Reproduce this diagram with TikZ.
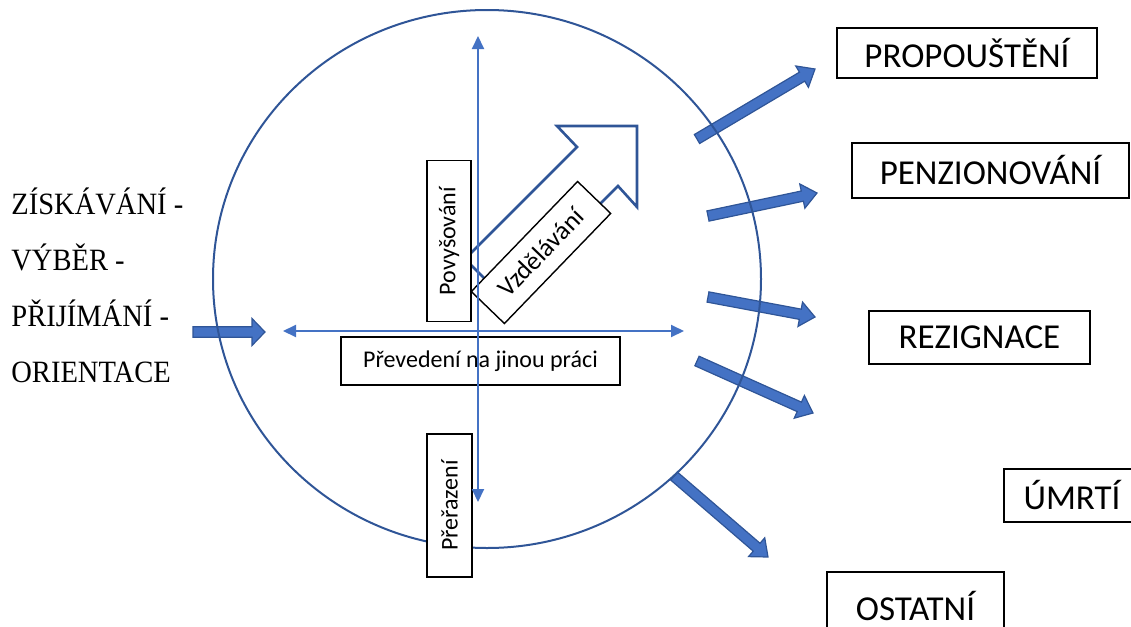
\documentclass[tikz,border=0pt]{standalone}
\usepackage{fontspec}
\setmainfont{Carlito}
\newfontfamily\serifL[FakeStretch=0.92]{Liberation Serif}
\usetikzlibrary{calc,arrows.meta}
\definecolor{axisblue}{HTML}{4472C4}
\definecolor{darkblue}{HTML}{2F5597}
\tikzset{
  box/.style={draw=black, line width=0.7pt, fill=white, inner sep=0pt},
  biglabel/.style={font=\fontsize{17.5}{20}\selectfont},
  smalllabel/.style={font=\fontsize{12}{14}\selectfont},
  lefttext/.style={font=\serifL\fontsize{15.5}{18}\selectfont, inner sep=0pt},
  axisline/.style={draw=axisblue, line width=1pt, {Triangle[length=6.5pt,width=6pt]}-{Triangle[length=6.5pt,width=6pt]}},
  circ/.style={draw=darkblue, line width=1pt},
  hollowarrow/.style={draw=darkblue, line width=1.3pt, line join=miter},
  blockarrow/.style={fill=axisblue, draw=darkblue, line width=0.6pt, line join=miter}
}
\newcommand{\blkarrow}[5]{%
  \coordinate (hb) at ($(#2)!#5!(#1)$);
  \filldraw[blockarrow] ($(#1)!#3!90:(#2)$) -- ($(hb)!#3!90:(#2)$) -- ($(hb)!#4!90:(#2)$)
    -- (#2) -- ($(hb)!#4!-90:(#2)$) -- ($(hb)!#3!-90:(#2)$) -- ($(#1)!#3!-90:(#2)$) -- cycle;
}
\begin{document}
\begin{tikzpicture}[x=0.5pt, y=-0.5pt]
\useasboundingbox (0,0) rectangle (1131,627);
\clip (0,0) rectangle (1131,627);

% block arrows
\coordinate (inA) at (193,332); \coordinate (inB) at (265,332);
\blkarrow{inA}{inB}{2.6pt}{6.75pt}{6.5pt}
\coordinate (o1a) at (697,139); \coordinate (o1b) at (815,69);
\blkarrow{o1a}{o1b}{2.6pt}{6.2pt}{7.5pt}
\coordinate (o2a) at (708,216); \coordinate (o2b) at (817,193);
\blkarrow{o2a}{o2b}{2.6pt}{6.2pt}{7.5pt}
\coordinate (o3a) at (708,297); \coordinate (o3b) at (815,317);
\blkarrow{o3a}{o3b}{2.6pt}{6.2pt}{7.5pt}
\coordinate (o4a) at (697,361); \coordinate (o4b) at (813,413);
\blkarrow{o4a}{o4b}{2.6pt}{6.2pt}{7.5pt}
\coordinate (o5a) at (674,476); \coordinate (o5b) at (768,557);
\blkarrow{o5a}{o5b}{2.6pt}{6.2pt}{7.5pt}

% circle
\draw[circ] (487,279) ellipse [x radius=137pt, y radius=134.5pt];

% hollow arrow
\draw[hollowarrow] (465,259) -- (577,147) -- (557,126) -- (637,126) -- (637,207)
  -- (618,186) -- (505,299) -- cycle;

% inner boxes
\node[box, smalllabel, rotate=90, minimum width=80.5pt, minimum height=22pt] (pov) at (449,241) {Povyšování};
\node[box, font=\fontsize{13}{15}\selectfont, rotate=46, minimum width=76.5pt, minimum height=23pt] (vzd) at (541,252.5) {Vzdělávání};
\node[box, smalllabel, minimum width=139.5pt, minimum height=24pt] (prev) at (480.5,361) {Převedení na jinou práci};
\node[box, smalllabel, rotate=90, minimum width=71.5pt, minimum height=22.5pt] (prer) at (449.5,505.5) {Přeřazení};

% axes
\coordinate (vtop) at (478,36); \coordinate (vbot) at (478,502);
\coordinate (hl) at (283,331); \coordinate (hr) at (684,331);
\draw[axisline] (vbot) -- (vtop);
\draw[axisline] (hl) -- (hr);

% outcome boxes
\node[box, biglabel, minimum width=130pt, minimum height=25pt] (prop) at (967,53) {PROPOUŠTĚNÍ};
\node[box, biglabel, minimum width=138.5pt, minimum height=27.5pt] (pen) at (990.5,170.5) {PENZIONOVÁNÍ};
\node[box, biglabel, minimum width=110.5pt, minimum height=26.5pt] (rez) at (979.5,337.5) {REZIGNACE};
\node[box, biglabel, minimum width=68pt, minimum height=26.5pt] (umr) at (1072,495.5) {ÚMRTÍ};
\node[box, biglabel, minimum width=88.5pt, minimum height=34pt] (ost) at (915.5,606) {OSTATNÍ};

% left text
\node[lefttext, anchor=base west] (l1) at (11,214) {ZÍSKÁVÁNÍ -};
\node[lefttext, anchor=base west] (l2) at (11,270) {VÝBĚR -};
\node[lefttext, anchor=base west] (l3) at (11,326) {PŘIJÍMÁNÍ -};
\node[lefttext, anchor=base west] (l4) at (11,382) {ORIENTACE};
\end{tikzpicture}
\end{document}
